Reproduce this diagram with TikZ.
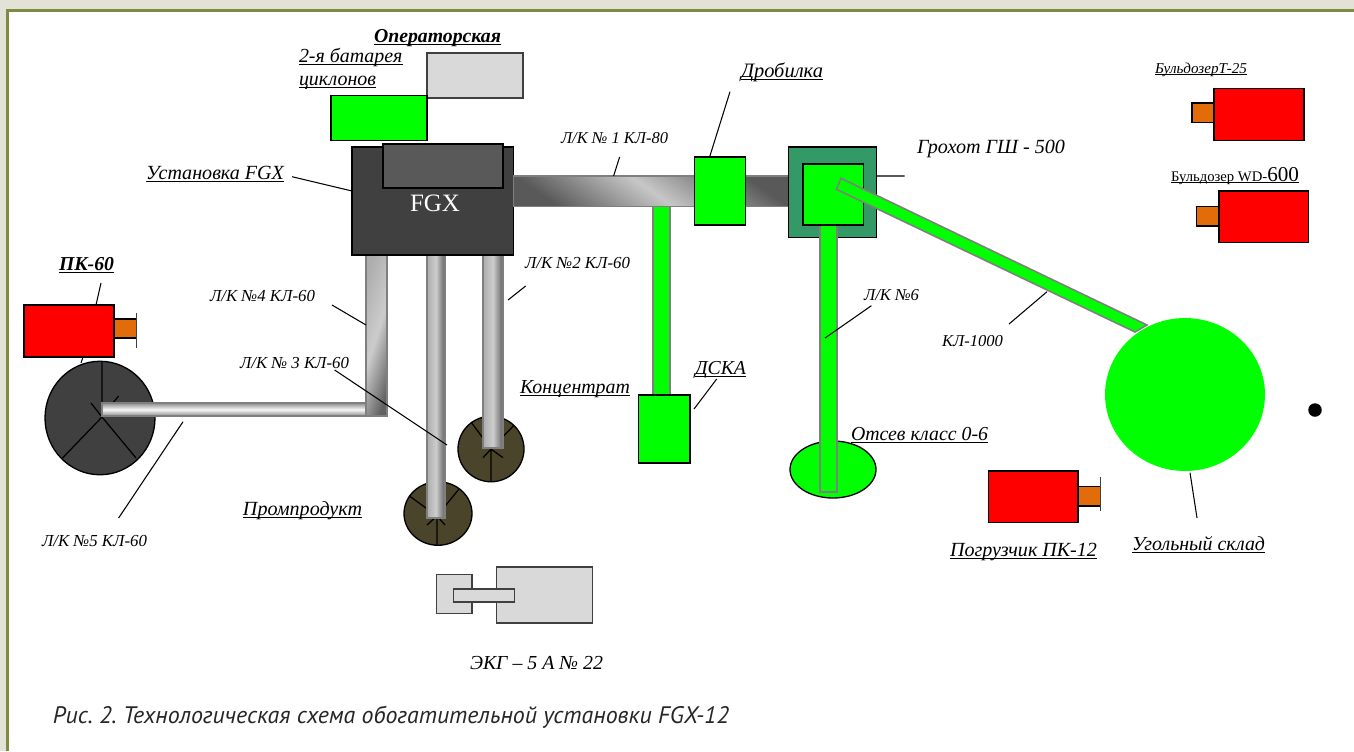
\documentclass[tikz,border=0pt]{standalone}
\usepackage{graphicx}
\usepackage{fontspec}
\usetikzlibrary{shapes.geometric}
\setmainfont{Liberation Serif}
\newfontfamily\capfont{PT Sans}
\frenchspacing
\definecolor{bandc}{HTML}{E2E3D6}
\definecolor{olivec}{HTML}{7F8B42}
\definecolor{darkc}{HTML}{404040}
\definecolor{midc}{HTML}{595959}
\definecolor{lightc}{HTML}{D9D9D9}
\definecolor{brownc}{HTML}{4A442A}
\definecolor{screenc}{HTML}{339966}
\definecolor{orangec}{HTML}{E36C0A}
\definecolor{limec}{HTML}{00FF00}
\definecolor{pipeedge}{HTML}{7F7F7F}
\tikzset{
  outline/.style={draw=black,line width=0.75pt},
  redbox/.style={outline,fill=red},
  orangebox/.style={outline,fill=orangec},
  greenbox/.style={outline,fill=limec},
  greybox/.style={draw=darkc,line width=0.75pt,fill=lightc},
  greenpipe/.style={draw=pipeedge,line width=0.9pt,fill=limec},
  vpipe/.style={draw=pipeedge,line width=0.9pt,left color=black!32,right color=black!62,middle color=black!20},
  hpipe/.style={draw=pipeedge,line width=0.9pt,top color=black!45,bottom color=black!45,middle color=black!3},
  mainpipe/.style={draw=pipeedge,line width=0.9pt,bottom color=black!65,top color=black!65,middle color=black!22,shading angle=-35},
  leader/.style={draw=black,line width=0.6pt},
  spoke/.style={draw=black,line width=0.7pt},
  barline/.style={draw=darkc,line width=0.9pt}
}
% name, style, x1, y1, x2, y2 (reference pixels)
\newcommand\eqbox[6]{%
  \pgfmathsetmacro\bw{(#5-#3)*0.02}\pgfmathsetmacro\bh{(#6-#4)*0.02}%
  \node[#2,rectangle,inner sep=0pt,outer sep=0pt,minimum width=\bw cm,minimum height=\bh cm]
    (#1) at ({(#3+#5)/2},{(#4+#6)/2}) {};}
% name, font, x1, x2, baseline y, text
\newcommand\lbl[6]{%
  \pgfmathsetmacro\tw{(#4-#3)*0.02}%
  \node[inner sep=0pt,anchor=base,font=#2] (#1) at ({(#3+#4)/2},#5) {\resizebox{\tw cm}{!}{#6}};}
% close underline
\newcommand\ulin[1]{\setbox0\hbox{#1}\copy0\kern-\wd0\rule[-0.14em]{\wd0}{0.055em}}
\begin{document}
\begin{tikzpicture}[x=0.02cm,y=-0.02cm]
\useasboundingbox (0,0) rectangle (1354,751);
% page frame
\fill[bandc] (0,0) rectangle (1354,751);
\fill[olivec] (6,9) rectangle (1354,751);
\fill[white] (8.5,12) rectangle (1354,751);

% storage circle dot
\node[circle,fill=black,inner sep=0pt,minimum size=0.27cm] (dot) at (1315,410) {};

% PK-60 and dark stockpile
\eqbox{pkarm}{orangebox}{114}{319}{136.5}{338}
\coordinate (pkbarT) at (136.5,313); \coordinate (pkbarB) at (136.5,348);
\draw[barline] (pkbarT) -- (pkbarB);
\eqbox{pk}{redbox}{24}{305}{114}{357}
\node[ellipse,outline,fill=darkc,inner sep=0pt,minimum width=2.2cm,minimum height=2.27cm] (stock) at (100,418) {};
\coordinate (sc) at (102,417);
\coordinate (s1) at (102,362); \coordinate (s2) at (62.5,458); \coordinate (s3) at (136,458);
\coordinate (s4) at (91,403); \coordinate (s5) at (118.6,396); \coordinate (s6) at (112,404);
\draw[spoke] (sc)--(s1) (sc)--(s2) (sc)--(s3) (sc)--(s4) (s5)--(s6);

% product stockpiles
\node[ellipse,outline,fill=brownc,inner sep=0pt,minimum width=1.32cm,minimum height=1.31cm] (conc) at (491,449) {};
\coordinate (c0) at (491,449);
\coordinate (c1) at (491,481.5); \coordinate (c2) at (471,422); \coordinate (c3) at (513.6,425.7);
\coordinate (c4) at (483,457.7); \coordinate (c5) at (503,457.7);
\draw[spoke] (c0)--(c1) (c0)--(c2) (c0)--(c3) (c0)--(c4) (c0)--(c5);
\node[ellipse,outline,fill=brownc,inner sep=0pt,minimum width=1.36cm,minimum height=1.27cm] (prom) at (438,513.5) {};
\coordinate (p0) at (437,516);
\coordinate (p1) at (437,545); \coordinate (p2) at (409,495.7); \coordinate (p3) at (459,489);
\coordinate (p4) at (427,525); \coordinate (p5) at (445,525);
\draw[spoke] (p0)--(p1) (p0)--(p2) (p0)--(p3) (p0)--(p4) (p0)--(p5);

% grey conveyors
\eqbox{pipeV}{hpipe}{102}{403}{366}{416}
\eqbox{pipeIV}{vpipe,shading angle=72}{366}{254}{387}{416}
\eqbox{pipeIII}{vpipe}{427}{254}{445}{518}
\eqbox{pipeII}{vpipe}{483}{254}{503}{448}

% FGX unit
\eqbox{fgx}{outline,fill=darkc}{352}{147}{513.6}{255}
\eqbox{fgxtop}{outline,fill=midc}{383}{144}{503}{188}
\lbl{fgxname}{\color{white}}{410}{460}{211.5}{FGX}

% upper boxes
\eqbox{oper}{greybox}{427}{53}{523}{98}
\eqbox{cyclone}{greenbox}{331}{95.5}{427}{140.5}

% green conveyor to DSKA and main pipe
\eqbox{pipeDSK}{greenpipe}{653}{206}{670}{395}
\eqbox{pipeI}{mainpipe}{513.6}{176}{790}{206.5}
\eqbox{crusher}{greenbox}{694.3}{157}{745.7}{225}
\eqbox{dska}{greenbox}{638.3}{395}{690}{463}

% screen
\eqbox{screen}{outline,fill=screenc}{788.6}{147}{876.8}{237.7}
\node[ellipse,outline,fill=limec,inner sep=0pt,minimum width=1.72cm,minimum height=1.14cm] (fines) at (833,469.5) {};
\eqbox{pipeVI}{greenpipe}{820}{225}{836.8}{491.7}
\eqbox{screenin}{greenbox}{803}{164}{863.6}{225}

% belt and yard
\coordinate (bA) at (841,178.3); \coordinate (bB) at (836.4,189.3);
\coordinate (bC) at (1135,332); \coordinate (bD) at (1147,325);
\draw[greenpipe] (bA) -- (bB) -- (bC) -- (bD) -- cycle;
\node[ellipse,fill=limec,inner sep=0pt,minimum width=3.2cm,minimum height=3.06cm] (yard) at (1185,394.5) {};

% loader, bulldozers
\eqbox{loadarm}{orangebox}{1078}{486.7}{1100.5}{506}
\coordinate (lbarT) at (1100.5,476.7); \coordinate (lbarB) at (1100.5,510.7);
\draw[barline] (lbarT) -- (lbarB);
\eqbox{loader}{redbox}{988.4}{471}{1078}{522.7}
\eqbox{armA}{orangebox}{1192}{103}{1214}{122.7}
\eqbox{dozA}{redbox}{1214}{88.7}{1304}{140.3}
\eqbox{armB}{orangebox}{1196.7}{206.7}{1219}{226}
\eqbox{dozB}{redbox}{1219}{191}{1308.7}{242.7}

% excavator
\eqbox{exSmall}{greybox}{436.7}{574.7}{472}{613.3}
\eqbox{exBig}{greybox}{496.3}{567}{592.7}{623}
\eqbox{exArm}{greybox}{453.3}{589}{514.3}{602}

% labels
\lbl{tOper}{\bfseries\itshape}{374}{501}{42}{\ulin{Операторская}}
\lbl{tBat}{\itshape}{299}{402.5}{62.5}{\ulin{2-я батарея}}
\lbl{tCyc}{\itshape}{299}{376}{85}{\ulin{циклонов}}
\lbl{tFgx}{\itshape}{146}{284}{179.5}{\ulin{Установка FGX}}
\lbl{tPk}{\bfseries\itshape}{59}{114}{270.5}{\ulin{ПК-60}}
\lbl{tL4}{\itshape}{210}{315}{301}{Л/К №4 КЛ-60}
\lbl{tL3}{\itshape}{240}{349}{368}{Л/К № 3 КЛ-60}
\lbl{tL2}{\itshape}{525}{630}{268}{Л/К №2 КЛ-60}
\lbl{tL1}{\itshape}{561}{668}{143}{Л/К № 1 КЛ-80}
\lbl{tCr}{\itshape}{741}{823}{77}{\ulin{Дробилка}}
\lbl{tGr}{\itshape}{917}{1065}{153}{Грохот ГШ - 500}
\lbl{tL6}{\itshape}{864}{919}{300}{Л/К №6}
\lbl{tKl}{\itshape}{942}{1003}{346}{КЛ-1000}
\lbl{tCon}{\itshape}{520}{630}{393}{\ulin{Концентрат}}
\lbl{tDs}{\itshape}{695}{746}{374}{\ulin{ДСКА}}
\lbl{tPr}{\itshape}{243}{362}{515.5}{\ulin{Промпродукт}}
\lbl{tL5}{\itshape}{42}{147}{546.5}{Л/К №5 КЛ-60}
\lbl{tOt}{\itshape}{851}{988}{440}{\ulin{Отсев класс 0-6}}
\lbl{tPg}{\itshape}{950}{1097}{556.5}{\ulin{Погрузчик ПК-12}}
\lbl{tYd}{\itshape}{1132}{1265}{550}{\ulin{Угольный склад}}
\lbl{tDA}{\itshape}{1155}{1247}{73}{\ulin{БульдозерТ-25}}
\lbl{tDB}{\upshape}{1171}{1299}{181}{\ulin{Бульдозер WD-{\Large 600}}}
\lbl{tEk}{\itshape}{470}{603}{669}{ЭКГ – 5 А № 22}
\lbl{tCap}{\capfont\itshape\color{black!85}}{53}{729}{723.5}{Рис. 2. Технологическая схема обогатительной установки FGX-12}

% leader lines
\coordinate (lFa) at (292,176.7); \coordinate (lFb) at (352,191);
\coordinate (l4a) at (332,305); \coordinate (l4b) at (366,325);
\coordinate (l3a) at (334.6,370); \coordinate (l3b) at (447,445);
\coordinate (l2a) at (525.7,286); \coordinate (l2b) at (508,300);
\coordinate (l5a) at (183,421.7); \coordinate (l5b) at (118.6,518);
\coordinate (l1a) at (619.6,157); \coordinate (l1b) at (613.6,176);
\coordinate (lCa) at (730,91.7); \coordinate (lCb) at (709.6,157);
\coordinate (lGa) at (876.8,176); \coordinate (lGb) at (904.6,176);
\coordinate (l6a) at (871.4,305.7); \coordinate (l6b) at (825,338);
\coordinate (lKa) at (1047,291.7); \coordinate (lKb) at (1009,324);
\coordinate (lDa) at (716.7,379); \coordinate (lDb) at (694,409);
\coordinate (lYa) at (1190,472.7); \coordinate (lYb) at (1197,518);
\coordinate (lPa) at (101,283); \coordinate (lPb) at (96,305);
\coordinate (lPc) at (83,357); \coordinate (lPd) at (81,363);
\draw[leader] (lFa)--(lFb) (l4a)--(l4b) (l3a)--(l3b) (l2a)--(l2b) (l5a)--(l5b)
  (l1a)--(l1b) (lCa)--(lCb) (lGa)--(lGb) (l6a)--(l6b) (lKa)--(lKb) (lDa)--(lDb)
  (lYa)--(lYb) (lPa)--(lPb) (lPc)--(lPd);
\end{tikzpicture}
\end{document}
